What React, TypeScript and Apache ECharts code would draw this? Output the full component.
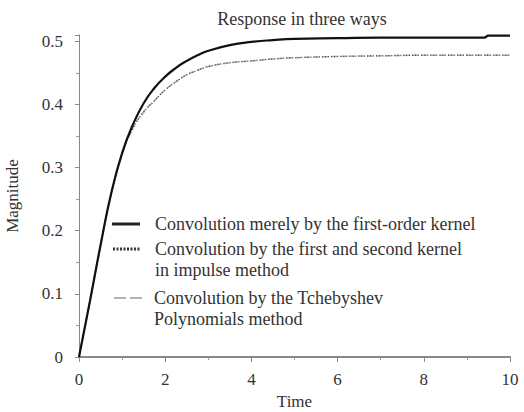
import React, { useEffect, useRef } from "react";
import * as echarts from "echarts";

const time = [0, 0.25, 0.5, 0.75, 1, 1.25, 1.5, 1.75, 2, 2.25, 2.5, 2.75, 3, 3.5, 4, 4.5, 5, 6, 7, 8, 9, 9.4, 9.5, 10];
const firstOrder = [0, 0.087, 0.177, 0.26, 0.323, 0.368, 0.402, 0.426, 0.444, 0.458, 0.469, 0.478, 0.485, 0.494, 0.499, 0.502, 0.504, 0.505, 0.506, 0.506, 0.506, 0.506, 0.509, 0.509];
const impulse = [0, 0.087, 0.177, 0.259, 0.321, 0.362, 0.388, 0.406, 0.423, 0.436, 0.447, 0.454, 0.460, 0.466, 0.469, 0.472, 0.474, 0.476, 0.477, 0.478, 0.478, 0.478, 0.478, 0.478];
const tchebyshev = [0, 0.087, 0.177, 0.259, 0.321, 0.362, 0.388, 0.406, 0.423, 0.436, 0.447, 0.454, 0.460, 0.466, 0.469, 0.472, 0.474, 0.476, 0.477, 0.478, 0.478, 0.478, 0.478, 0.478];

const seriesNames = [
  "Convolution merely by the first-order kernel",
  "Convolution by the first and second kernel\nin impulse method",
  "Convolution by the Tchebyshev\nPolynomials method",
];

const legendLines = [
  { text: "Convolution merely by the first-order kernel", x: 155, y: 224 },
  { text: "Convolution by the first and second kernel", x: 155, y: 249 },
  { text: "in impulse method", x: 155, y: 270 },
  { text: "Convolution by the Tchebyshev", x: 154, y: 298 },
  { text: "Polynomials method", x: 154, y: 319 },
];

const FONT = "serif";

export default function App() {
  const ref = useRef<HTMLDivElement>(null);
  useEffect(() => {
    if (!ref.current) return;
    const chart = echarts.init(ref.current, null, { renderer: "svg" });
    const pair = (ys: number[]) => time.map((t, i) => [t, ys[i]]);
    const legendTitles = legendLines.map((l) => ({
      text: l.text,
      left: l.x,
      top: l.y,
      padding: 0,
      textVerticalAlign: "middle",
      textStyle: { fontFamily: FONT, fontSize: 18, fontWeight: "normal", color: "#333" },
    }));
    chart.setOption({
      animation: false,
      backgroundColor: "#fff",
      textStyle: { fontFamily: FONT },
      title: [
        {
          text: "Response in three ways",
          left: 297,
          top: 5,
          textAlign: "center",
          textStyle: { fontFamily: FONT, fontSize: 18, fontWeight: "normal", color: "#333" },
        },
        ...legendTitles,
      ],
      grid: { left: 79, right: 14, top: 35, bottom: 55, containLabel: false, outerBoundsMode: "none" },
      xAxis: {
        type: "value",
        min: 0,
        max: 10,
        interval: 2,
        name: "Time",
        nameLocation: "middle",
        nameGap: 35,
        nameTextStyle: { fontFamily: FONT, fontSize: 17, color: "#333" },
        axisLine: { lineStyle: { color: "#888", width: 2 } },
        axisTick: { show: true, length: 5, lineStyle: { color: "#888" } },
        minorTick: { show: true, splitNumber: 2, length: 3, lineStyle: { color: "#999" } },
        axisLabel: { fontFamily: FONT, fontSize: 17, color: "#333", margin: 14 },
        splitLine: { show: false },
      },
      yAxis: {
        type: "value",
        min: 0,
        max: 0.51,
        interval: 0.1,
        name: "Magnitude",
        nameLocation: "middle",
        nameGap: 58,
        nameTextStyle: { fontFamily: FONT, fontSize: 17, color: "#333" },
        axisLine: { show: true, lineStyle: { color: "#888", width: 1 } },
        axisTick: { show: true, length: 4, lineStyle: { color: "#888" } },
        minorTick: { show: true, splitNumber: 2, length: 3, lineStyle: { color: "#999" } },
        axisLabel: { fontFamily: FONT, fontSize: 17, color: "#333", margin: 16, showMaxLabel: false },
        splitLine: { show: false },
      },
      series: [
        {
          name: seriesNames[2],
          type: "line",
          smooth: true,
          showSymbol: false,
          data: pair(tchebyshev),
          lineStyle: { color: "#aaa", width: 1.5, type: "dashed" },
          z: 1,
        },
        {
          name: seriesNames[1],
          type: "line",
          smooth: true,
          showSymbol: false,
          data: pair(impulse),
          lineStyle: { color: "#444", width: 1.3, type: [1, 2] },
          z: 2,
        },
        {
          name: seriesNames[0],
          type: "line",
          smooth: true,
          showSymbol: false,
          data: pair(firstOrder),
          lineStyle: { color: "#111", width: 2.2, type: "solid" },
          z: 3,
        },
      ],
      graphic: [
        { type: "line", shape: { x1: 112, y1: 224, x2: 140, y2: 224 }, style: { stroke: "#222", lineWidth: 3 } },
        { type: "line", shape: { x1: 113, y1: 249, x2: 140, y2: 249 }, style: { stroke: "#333", lineWidth: 3, lineDash: [2, 1.5] } },
        { type: "line", shape: { x1: 114, y1: 298, x2: 143, y2: 298 }, style: { stroke: "#999", lineWidth: 1.5, lineDash: [12, 4] } },
      ],
    });
    return () => chart.dispose();
  }, []);
  return (
    <div
      ref={ref}
      style={{ position: "fixed", left: 0, top: 0, width: 524, height: 412, background: "#fff" }}
    />
  );
}
